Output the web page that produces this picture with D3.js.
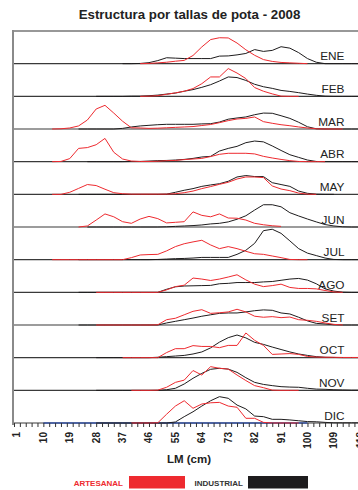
<!DOCTYPE html>
<html>
<head>
<meta charset="utf-8">
<script src="https://cdn.jsdelivr.net/npm/d3@7"></script>
<style>
  html, body { margin: 0; padding: 0; background: #fff; }
  svg { display: block; font-family: "Liberation Sans", Arial, sans-serif; }
</style>
</head>
<body>
<svg id="chart" width="358" height="490"></svg>
<script>
// Length classes (LM, cm) – one point every 3 cm
const LM = [1,4,7,10,13,16,19,22,25,28,31,34,37,40,43,46,49,52,55,58,
            61,64,67,70,73,76,79,82,85,88,91,94,97,100,103,106,109,112,115,118];
const LM_LABELS = [1,10,19,28,37,46,55,64,73,82,91,100,109,118];
const MONTHS = ["ENE","FEB","MAR","ABR","MAY","JUN","JUL","AGO","SET","OCT","NOV","DIC"];
const _ = null;

// Frequency (%) per length class, artisanal fleet
const ENE_ART = [_,_,_,_,_,_,_,_,_,_, _,_,_,_,0,0.1,0.4,0.7,1.2,1.6, 4.0,8.2,11.8,12.7,12.6,10.1,6.8,4.1,2.0,1.1, 0.6,0.4,0.2,0,_,_,_,_,_,_];
const FEB_ART = [_,_,_,_,_,_,_,_,_,_, _,_,_,_,0,0.1,0.3,1.0,1.7,2.5, 3.8,6.2,9.5,9.5,13.6,11.4,8.7,4.3,2.5,1.2, 0.1,0,0,_,_,_,_,_,_,_];
const MAR_ART = [_,_,_,_,0,0.1,0.5,1.5,4.4,9.8, 11.6,7.8,3.8,0.6,0.5,0.3,0.4,0.6,0.8,1.0, 1.2,1.7,2.2,3.1,4.1,4.9,5.2,5.9,3.6,2.8, 2.1,1.6,1.0,0.5,0.1,0,0,0,_,_];
const ABR_ART = [_,_,_,_,0,0.1,1.5,6.5,6.9,8.3, 11.4,4.6,1.3,0.3,0.1,0.1,0.2,0.5,0.6,1.0, 1.3,1.6,2.5,3.6,4.1,4.1,4.1,3.8,2.6,1.8, 1.1,0.5,0.1,0,0,0,_,_,_,_];
const MAY_ART = [_,_,_,_,0,0,1.0,2.9,4.8,4.3, 2.5,0.8,0.3,0.1,0.1,0.1,0.1,0.1,0.3,0.8, 1.6,2.8,3.8,4.9,5.9,7.5,8.5,8.5,8.2,4.1, 2.6,1.8,0.6,0.1,0,_,_,_,_,_];
const JUN_ART = [_,_,_,_,_,_,_,0,0.5,3.4, 6.4,5.0,2.6,1.8,3.9,5.2,4.1,2.0,2.3,2.6, 7.4,5.7,5.0,6.4,4.4,4.3,3.4,1.8,1.1,0.6, 0.3,_,_,_,_,_,_,_,_,_];
const JUL_ART = [_,_,_,_,0,0,0,0,0,0, 0,0,0,1.0,2.3,2.5,2.6,4.3,6.4,7.8, 8.7,9.5,7.2,5.4,6.4,5.4,4.1,2.9,2.6,1.8, 1.0,0.1,0,0,_,_,_,_,_,_];
const AGO_ART = [_,_,_,_,_,_,_,_,_,0, 0,0,0,0,0,0,0,1.2,2.8,3.5, 7.0,6.5,5.8,6.5,7.5,8.6,6.1,4.0,2.8,3.3, 4.0,2.4,1.9,1.9,1.7,0.9,0.2,0,_,_];
const SET_ART = [_,_,_,_,_,_,_,_,_,0, 0,0,0,0,0,0,0.1,2.6,3.3,5.0, 6.7,7.5,5.7,6.0,6.4,7.7,6.4,4.3,3.8,4.1, 3.6,3.9,2.6,2.3,1.8,1.0,0.3,0,_,_];
const OCT_ART = [_,_,_,_,_,_,_,_,_,_, _,_,0,0,0,0,0,2.5,4.4,4.4, 5.9,5.5,5.5,4.9,6.0,6.0,12.1,8.5,6.0,1.6, 1.8,2.0,1.6,0.6,0.3,0.2,0.2,0.1,0.1,0.1];
const NOV_ART = [_,_,_,_,_,_,_,_,_,_, _,_,_,0,0,0,0.1,1.5,3.9,5.0, 9.7,7.5,11.6,10.8,10.4,7.5,4.8,2.3,1.3,0.1, 0,0,0,_,_,_,_,_,_,_];
const DIC_ART = [_,_,_,_,_,_,_,_,_,_, _,_,_,0,0,0,0.1,4.3,8.3,10.9, 7.2,9.3,9.9,10.1,8.3,7.7,2.3,2.3,0.3,0, 0,0,0,_,_,_,_,_,_,_];

// Frequency (%) per length class, industrial fleet
const ENE_IND = [_,_,_,_,_,_,_,_,_,_, _,_,0,0,0.1,0.5,1.5,2.9,2.7,2.5, 2.5,2.5,2.5,3.7,3.8,4.3,5.0,6.9,6.0,6.5, 8.3,7.6,5.4,2.5,0.7,0,0,0,0,0];
const FEB_IND = [_,_,_,_,_,_,_,_,_,0, 0,0,0,0.1,0.1,0.3,0.6,1.1,1.6,2.5, 3.3,4.4,5.7,7.5,9.5,9.2,7.8,5.9,4.7,3.9, 2.9,2.4,1.8,1.1,0.5,0.1,0,0,0,0];
const MAR_IND = [_,_,_,_,_,_,_,0,0,0, 0,0,0.3,1.0,1.5,1.8,2.1,2.3,2.3,2.3, 2.3,2.5,2.6,3.4,4.8,5.4,5.9,7.0,7.8,7.7, 6.5,5.2,3.3,1.1,0.1,0,0,0,0,0];
const ABR_IND = [_,_,_,_,_,_,_,_,0,0, 0,0,0,0.1,0.1,0.3,0.5,0.6,0.8,1.1, 1.6,2.3,2.6,5.2,6.5,7.5,9.3,10.1,9.7,7.7, 5.5,3.4,2.1,0.8,0.1,0,0,0,0,0];
const MAY_IND = [_,_,_,_,_,_,_,0,0,0, 0,0,0,0,0,0,0,0.1,1.0,2.0, 2.8,3.9,4.6,5.2,6.4,8.5,9.2,8.7,8.7,5.7, 4.8,3.9,1.6,0.5,0.1,0,0,_,_,_];
const JUN_IND = [_,_,_,_,_,_,_,_,0,0, 0,0,0,0,0,0,0,0.1,0.3,0.5, 0.7,1.0,1.5,1.8,2.5,3.8,5.5,8.3,10.9,10.9, 9.9,7.0,5.4,3.9,2.5,1.2,0.5,0.1,0,0];
const JUL_IND = [_,_,_,_,_,_,_,0,0,0, 0,0,0,0,0,0,0.1,0.3,0.5,0.6, 0.8,1.1,1.1,1.1,1.1,2.6,4.6,8.0,14.2,14.9, 12.9,9.2,5.4,3.2,2.0,0.8,0.1,0,0,0];
const AGO_IND = [_,_,_,_,_,_,_,0,0,0, 0,0,0,0,0,0,0,1.5,2.7,3.1, 3.2,3.3,3.4,4.2,4.4,4.8,4.8,4.8,5.1,5.3, 5.9,6.5,6.8,6.0,4.2,1.7,0.6,0.1,0,0];
const SET_IND = [_,_,_,_,_,_,_,0,0,0, 0,0,0,0,0,0,0,1.0,1.8,2.6, 3.4,4.3,5.0,5.7,5.9,5.9,6.4,7.0,7.4,7.2, 5.9,5.4,3.8,2.0,0.8,0.5,0.1,0,0,0];
const OCT_IND = [_,_,_,_,_,_,_,_,_,0, 0,0,0,0,0,0,0.2,0.5,0.8,1.1, 1.8,2.8,4.8,7.6,9.8,11.1,9.7,7.5,6.5,5.2, 4.0,2.8,1.8,1.1,0.5,0.2,0.1,0,0,0];
const NOV_IND = [_,_,_,_,_,_,_,_,_,0, 0,0,0,0,0,0,0,0.3,1.0,3.1, 5.9,8.3,10.3,10.8,10.4,8.8,6.2,3.9,2.9,2.3, 1.8,1.6,1.5,1.0,0.6,0.5,0.3,0.2,0.1,0.1];
const DIC_IND = [_,_,_,_,_,_,_,_,_,0, 0,0,0,0,0,0,0,0,0.5,3.1, 5.5,8.3,10.9,12.9,12.1,8.8,6.9,3.4,3.1,1.8, 1.8,1.5,1.1,0.7,0.6,0.3,0.1,0.1,0.1,0.1];

// Empty third series that shows only as a flat line in December
const DIC_BASE = [_,_,_,0,0,0,0,0,0,0, 0,0,0,0,0,0,0,0,0,0, 0,0,0,0,0,0,0,0,0,0, 0,0,0,0,_,_,_,_,_,_];

const ARTESANAL = [ENE_ART,FEB_ART,MAR_ART,ABR_ART,MAY_ART,JUN_ART,JUL_ART,AGO_ART,SET_ART,OCT_ART,NOV_ART,DIC_ART];
const INDUSTRIAL = [ENE_IND,FEB_IND,MAR_IND,ABR_IND,MAY_IND,JUN_IND,JUL_IND,AGO_IND,SET_IND,OCT_IND,NOV_IND,DIC_IND];

const RED = "#ee2a2f", BLACK = "#1e1c1d", BLUE = "#3552a3";

const svg = d3.select("#chart");
const plotLeft = 13, plotRight = 358, plotTop = 31, plotBottom = 423;

const x = d3.scaleLinear().domain([0, 118]).range([14, 360.3]);
const band = d3.scaleBand().domain(MONTHS).range([plotTop, plotBottom]);

// title
svg.append("text")
  .attr("x", 189.5).attr("y", 19)
  .attr("text-anchor", "middle")
  .attr("font-weight", "bold").attr("font-size", 13.3)
  .attr("fill", "#222")
  .text("Estructura por tallas de pota - 2008");

// top border
svg.append("line")
  .attr("x1", plotLeft).attr("x2", plotRight).attr("y1", plotTop).attr("y2", plotTop)
  .attr("stroke", "#333").attr("stroke-width", 1.2);

const panels = svg.append("g");

MONTHS.forEach((m, i) => {
  const y0 = band(m) + band.bandwidth();
  const y = d3.scaleLinear().domain([0, 16]).range([y0, band(m)]);
  const line = d3.line()
    .defined(d => d != null)
    .x((d, k) => x(LM[k]))
    .y(d => y(d));

  const g = panels.append("g");
  g.append("line")
    .attr("x1", plotLeft).attr("x2", plotRight).attr("y1", y0).attr("y2", y0)
    .attr("stroke", "#3a3a3a").attr("stroke-width", 1.1);

  if (m === "DIC") {
    g.append("path").datum(DIC_BASE).attr("d", line)
      .attr("fill", "none").attr("stroke", BLUE).attr("stroke-width", 1.4);
  }
  g.append("path").datum(INDUSTRIAL[i]).attr("d", line)
    .attr("fill", "none").attr("stroke", BLACK).attr("stroke-width", 1);
  g.append("path").datum(ARTESANAL[i]).attr("d", line)
    .attr("fill", "none").attr("stroke", RED).attr("stroke-width", 1);

  g.append("text")
    .attr("x", 344.5).attr("y", y0 - 3.3)
    .attr("text-anchor", "end")
    .attr("font-size", 11.8).attr("fill", "#222")
    .text(m);
});

// left axis
svg.append("line")
  .attr("x1", plotLeft).attr("x2", plotLeft).attr("y1", plotTop - 1).attr("y2", plotBottom + 2)
  .attr("stroke", "#8a8a8a").attr("stroke-width", 2);

// x axis ticks
const xAxis = svg.append("g").attr("transform", `translate(0,${plotBottom})`)
  .call(d3.axisBottom(x).tickValues(d3.range(0, 119, 2)).tickSize(4).tickFormat(""));
xAxis.select(".domain").remove();
xAxis.selectAll(".tick line").attr("stroke", "#333");

// x axis labels (rotated); the last one runs into the right edge
svg.append("g").selectAll("text").data(LM_LABELS).join("text")
  .attr("transform", d => `translate(${x(d)},432) rotate(-90)`)
  .attr("dy", "0.35em")
  .attr("text-anchor", "end")
  .attr("font-weight", "bold").attr("font-size", 10)
  .attr("fill", "#222")
  .text(d => d);

svg.append("text")
  .attr("x", 189).attr("y", 463)
  .attr("text-anchor", "middle")
  .attr("font-weight", "bold").attr("font-size", 11.5)
  .attr("fill", "#222")
  .text("LM (cm)");

// legend
const legend = [
  { name: "ARTESANAL", color: RED, textColor: RED, tx: 123, rx: 129, rw: 56 },
  { name: "INDUSTRIAL", color: BLACK, textColor: "#333", tx: 243, rx: 248, rw: 60 }
];
const lg = svg.append("g");
legend.forEach(l => {
  lg.append("text")
    .attr("x", l.tx).attr("y", 485.5)
    .attr("text-anchor", "end")
    .attr("font-weight", "bold").attr("font-size", 8)
    .attr("fill", l.textColor)
    .text(l.name);
  lg.append("rect")
    .attr("x", l.rx).attr("y", 476).attr("width", l.rw).attr("height", 12.5)
    .attr("fill", l.color);
});
</script>
</body>
</html>
